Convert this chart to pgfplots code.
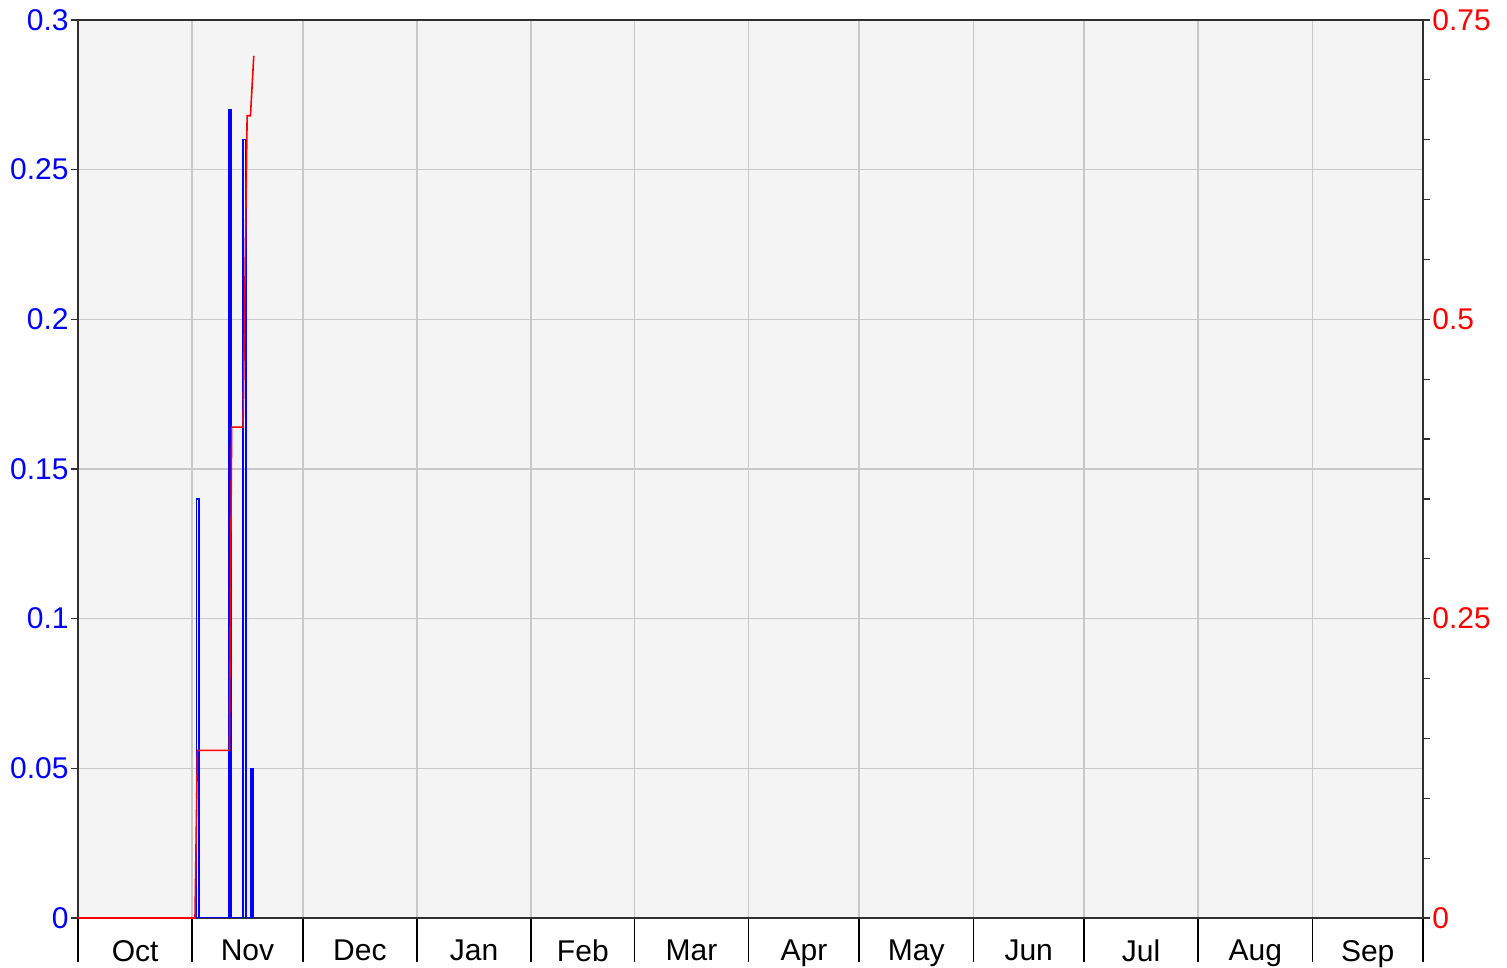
\documentclass[border=0pt]{standalone}
\usepackage{pgfplots}
\pgfplotsset{compat=1.18}
\usepackage{fontspec}
\setmainfont{Liberation Sans}
\definecolor{bg}{HTML}{F4F4F4}
\definecolor{gridc}{HTML}{C8C8C8}
\definecolor{axc}{HTML}{303030}
\begin{document}
\begin{tikzpicture}
\begin{axis}[
  name=main,
  scale only axis, width=672.5pt, height=449pt,
  xmin=0, xmax=365, ymin=0, ymax=0.3,
  axis background/.style={fill=bg},
  axis line style={axc, line width=0.8pt},
  tick pos=left, tick align=outside,
  scaled y ticks=false,
  xtick={15.5,46,76.5,107.5,137,166.5,197,227.5,258,288.5,319.5,350},
  xticklabels={Oct,Nov,Dec,Jan,Feb,Mar,Apr,May,Jun,Jul,Aug,Sep},
  major x tick style={draw=none},
  minor xtick={0,31,61,92,123,151,182,212,243,273,304,335,365},
  minor tick length=22pt,
  xminorgrids=true,
  minor x grid style={gridc, line width=0.75pt},
  minor x tick style={black, line width=0.8pt},
  ytick={0,0.05,0.1,0.15,0.2,0.25,0.3},
  yticklabels={0,0.05,0.1,0.15,0.2,0.25,0.3},
  ymajorgrids=true,
  major y grid style={gridc, line width=0.75pt},
  major tick length=3.5pt,
  major y tick style={axc, line width=0.6pt},
  yticklabel style={blue, inner sep=1pt, font=\fontsize{15}{18}\selectfont},
  xticklabel style={black, yshift=-4pt, font=\fontsize{15}{18}\selectfont},
]
\addplot[blue, line width=0.75pt] coordinates {
 (32.15,0) (32.15,0.14) (32.8,0.14) (32.8,0)
 (40.95,0) (40.95,0.27) (41.55,0.27) (41.55,0)
 (44.75,0) (44.75,0.26) (45.55,0.26) (45.55,0)
 (46.9,0) (46.9,0.05) (47.55,0.05) (47.55,0)
};
\end{axis}
\begin{axis}[
  scale only axis, width=672.5pt, height=449pt,
  xmin=0, xmax=365, ymin=0, ymax=0.75,
  axis x line=none, axis y line*=right,
  axis line style={axc, line width=0.8pt},
  tick align=outside,
  scaled y ticks=false,
  clip=false,
  ytick={0,0.25,0.5,0.75},
  yticklabels={0,0.25,0.5,0.75},
  minor ytick={0.05,0.1,0.15,0.2,0.3,0.35,0.4,0.45,0.55,0.6,0.65,0.7},
  major tick length=3.5pt, minor tick length=3.5pt,
  ytick style={axc, line width=0.6pt},
  yticklabel style={red, inner sep=1pt, font=\fontsize{15}{18}\selectfont},
]
\addplot[red, line width=0.8pt] coordinates {
 (0,0) (31.75,0) (32.4,0.14) (41.1,0.14) (41.7,0.41) (44.8,0.41)
 (45.9,0.67) (46.8,0.67) (47.7,0.72)
};
\end{axis}
\pgfresetboundingbox
\path ([shift={(-39pt,-25pt)}]main.south west) rectangle ([shift={(42pt,10pt)}]main.north east);
\end{tikzpicture}
\end{document}
